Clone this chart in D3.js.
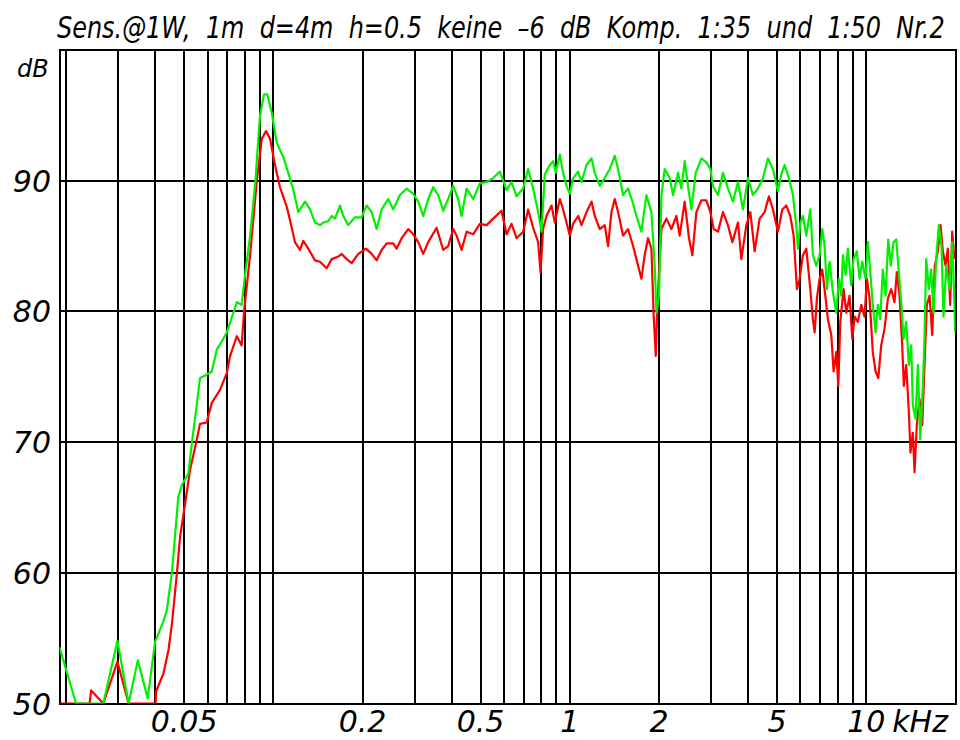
<!DOCTYPE html>
<html>
<head>
<meta charset="utf-8">
<script src="https://d3js.org/d3.v7.min.js"></script>
<style>
  body { margin: 0; background: #fff; }
  text { font-family: "DejaVu Sans", sans-serif; font-style: italic; fill: #000; }
</style>
</head>
<body>
<svg id="chart"></svg>
<script>
// frequency in kHz, level in dB
var greenFreq = [0.0190,0.0216,0.0267,0.0298,0.0325,0.0349,0.0377,0.0399,0.0426,0.0437,0.0455,0.0466,0.0478,0.0491,0.0517,0.0531,0.0545,0.0566,0.0589,0.0620,0.0645,0.0670,0.0697,0.0753,0.0782,0.0803,0.0835,0.0868,0.0902,0.0930,0.0954,0.0988,0.1027,0.1081,0.1123,0.1168,0.1214,0.1279,0.1330,0.1382,0.1437,0.1474,0.1532,0.1573,0.1614,0.1678,0.1722,0.1789,0.1885,0.1986,0.2064,0.2146,0.2231,0.2319,0.2441,0.2538,0.2673,0.2816,0.2964,0.3081,0.3203,0.3330,0.3462,0.3599,0.3741,0.3889,0.4043,0.4203,0.4315,0.4486,0.4722,0.4974,0.5240,0.5515,0.5809,0.6120,0.6361,0.6613,0.6960,0.7236,0.7522,0.7820,0.8028,0.8236,0.8563,0.8785,0.8971,0.9255,0.9494,0.9747,1.000,1.026,1.067,1.095,1.139,1.184,1.214,1.262,1.312,1.364,1.418,1.455,1.512,1.572,1.627,1.678,1.744,1.813,1.885,1.934,1.960,2.000,2.038,2.090,2.173,2.230,2.317,2.379,2.441,2.504,2.572,2.659,2.779,2.888,2.980,3.041,3.161,3.286,3.416,3.551,3.692,3.838,3.990,4.148,4.312,4.483,4.660,4.845,5.036,5.170,5.304,5.485,5.658,5.808,5.881,5.992,6.114,6.277,6.475,6.607,6.783,6.960,7.108,7.235,7.366,7.522,7.717,7.924,8.084,8.236,8.339,8.515,8.670,8.900,9.061,9.296,9.493,9.694,9.945,10.12,10.32,10.52,10.75,10.94,11.15,11.37,11.62,11.86,12.10,12.36,12.62,12.88,13.12,13.36,13.64,13.92,14.18,14.36,14.66,14.93,15.21,15.52,15.72,15.93,16.26,16.56,16.86,17.22,17.57,17.94,18.22,18.61,19.09,19.49,19.80,19.95];
var greenDb = [54.3,50,50,54.8,50,53.3,50.4,54.7,56.3,57.1,60.0,62.8,65.8,66.7,67.6,69.9,71.9,74.9,75.1,75.4,77.1,77.7,78.4,80.7,80.5,82.8,85.8,89.7,95.0,96.6,96.6,95.2,92.9,91.8,90.6,89.3,87.6,88.4,87.8,86.8,86.6,86.8,86.9,87.3,87.1,88.1,87.3,86.6,87.2,87.2,88.1,87.6,86.3,87.8,88.6,87.8,88.9,89.4,89.0,88.4,87.3,88.6,89.5,88.9,87.7,88.6,89.6,88.6,87.3,89.4,88.6,89.8,89.9,90.2,90.7,89.3,89.9,88.8,89.4,90.9,89.4,87.6,86.1,90.5,91.2,91.5,90.6,92.0,90.6,89.6,89.0,90.2,90.7,89.9,91.2,91.7,90.6,89.6,90.2,90.9,91.9,90.9,88.9,89.4,88.4,87.3,86.1,88.9,87.6,83.5,79.9,81.2,88.9,90.9,90.2,88.9,90.6,89.4,91.5,89.6,87.8,90.6,91.7,91.4,90.9,89.6,88.9,90.6,89.4,88.4,89.9,87.8,90.2,88.9,89.4,90.2,91.7,90.9,89.2,90.5,91.2,90.2,88.9,86.6,84.8,86.8,87.3,85.8,87.8,84.3,83.5,84.3,86.3,85.0,81.7,83.8,81.5,79.9,82.5,81.2,84.3,82.8,84.8,82.0,84.0,84.6,82.5,83.8,82.5,85.3,83.0,80.5,78.4,80.5,79.4,83.2,81.2,85.5,83.5,85.3,85.5,83.0,80.7,77.9,79.2,75.9,77.4,72.8,71.8,75.9,70.2,74.3,77.9,84.0,81.7,83.2,79.9,84.0,86.6,85.0,79.6,83.5,81.7,85.3,81.2,78.4];

var redFreq = [0.0190,0.0240,0.0243,0.0267,0.0298,0.0325,0.0401,0.0402,0.0426,0.0443,0.0455,0.0473,0.0485,0.0504,0.0524,0.0545,0.0566,0.0596,0.0620,0.0661,0.0697,0.0715,0.0753,0.0782,0.0796,0.0835,0.0879,0.0914,0.0945,0.0975,0.1013,0.1053,0.1110,0.1138,0.1183,0.1230,0.1262,0.1312,0.1382,0.1437,0.1514,0.1573,0.1656,0.1700,0.1768,0.1838,0.1934,0.2053,0.2146,0.2231,0.2319,0.2411,0.2538,0.2605,0.2709,0.2851,0.2964,0.3081,0.3203,0.3330,0.3554,0.3741,0.3889,0.4043,0.4151,0.4315,0.4486,0.4722,0.4974,0.5240,0.5515,0.5886,0.6120,0.6361,0.6613,0.6960,0.7236,0.7522,0.7820,0.7966,0.8128,0.8346,0.8677,0.8902,0.9255,0.9494,0.9747,1.000,1.026,1.067,1.095,1.139,1.184,1.214,1.262,1.312,1.346,1.382,1.418,1.455,1.512,1.572,1.635,1.678,1.744,1.789,1.836,1.885,1.919,1.950,1.969,2.000,2.038,2.118,2.202,2.289,2.348,2.441,2.524,2.591,2.673,2.779,2.888,2.980,3.057,3.161,3.286,3.416,3.535,3.692,3.791,3.940,4.065,4.203,4.369,4.542,4.696,4.845,5.036,5.211,5.375,5.544,5.689,5.836,5.959,6.114,6.277,6.475,6.607,6.697,6.817,6.960,7.108,7.293,7.424,7.621,7.760,7.924,8.047,8.173,8.386,8.564,8.785,8.971,9.133,9.369,9.619,9.868,10.05,10.26,10.52,10.75,10.98,11.23,11.53,11.83,12.14,12.45,12.68,12.95,13.22,13.39,13.64,13.92,14.10,14.36,14.55,14.81,15.12,15.45,15.72,16.01,16.35,16.69,17.03,17.44,17.81,18.13,18.51,18.84,19.19,19.49,19.84];
var redDb = [50,50,51.0,50,53.2,50,50,50.9,52.3,54.1,56.1,60.0,62.8,65.3,67.9,69.6,71.4,71.5,73.0,74.0,75.3,76.6,78.1,77.4,79.9,84.3,89.9,93.2,93.8,93.2,91.2,89.5,88.0,87.0,85.3,84.7,85.4,84.8,83.9,83.8,83.3,84.0,84.2,84.4,84.0,83.7,84.4,84.8,84.4,83.9,84.7,85.2,85.2,84.8,85.6,86.3,85.9,85.3,84.4,85.3,86.4,84.7,85.0,86.3,85.8,84.7,86.1,85.9,86.7,86.6,87.1,87.7,85.9,86.7,85.6,86.1,87.8,86.4,85.3,83.0,86.3,87.3,88.1,86.8,88.6,87.8,86.8,85.8,86.7,87.3,86.6,87.6,88.4,87.3,86.3,86.6,85.0,87.6,88.6,87.6,85.8,86.3,85.0,84.0,82.5,84.3,85.6,84.8,79.6,76.6,79.6,83.0,86.3,87.1,86.3,87.3,85.8,88.4,85.6,84.3,87.6,88.5,88.5,87.6,86.3,86.1,87.6,86.6,85.3,86.8,84.0,86.6,87.6,84.6,87.1,87.6,88.8,87.8,86.1,87.8,88.1,87.3,85.8,81.7,82.5,84.3,84.8,81.7,79.4,78.4,81.0,82.5,83.2,81.0,79.4,78.2,75.4,76.9,74.3,79.2,81.7,79.9,81.2,77.9,79.6,79.2,80.5,79.6,82.5,81.0,76.9,75.4,74.9,77.4,78.7,81.0,81.7,80.7,83.0,81.2,77.4,74.3,75.9,72.3,69.2,70.7,67.7,71.3,73.3,71.3,75.9,80.5,81.2,78.2,83.5,84.6,86.6,84.6,83.5,84.8,80.5,86.1,84.0];

var yTicks = [50, 60, 70, 80, 90];
var xGrid = [0.02,0.03,0.04,0.05,0.06,0.07,0.08,0.09,0.1,0.2,0.3,0.4,0.5,0.6,0.7,0.8,0.9,1,2,3,4,5,6,7,8,9,10];
var xLabels = [0.05, 0.2, 0.5, 1, 2, 5, 10];
var title = "Sens.@1W,  1m  d=4m  h=0.5  keine  \u20136  dB  Komp.  1:35  und  1:50  Nr.2";

var width = 960, height = 740;
var plotLeft = 59.5, plotRight = 955.5, plotTop = 50, plotBottom = 703.5;

var svg = d3.select("#chart").attr("width", width).attr("height", height);

var x = d3.scaleLog().domain([0.019, 20]).range([plotLeft, plotRight]);
var y = d3.scaleLinear().domain([50, 100]).range([plotBottom, plotTop]);

svg.append("defs").append("clipPath").attr("id", "plot")
  .append("rect").attr("x", plotLeft).attr("y", plotTop - 2)
  .attr("width", plotRight - plotLeft).attr("height", plotBottom - plotTop + 2);

// grid
var grid = svg.append("g").attr("stroke", "#000").attr("stroke-width", 2).attr("shape-rendering", "crispEdges");
grid.selectAll(".v").data(xGrid).join("line")
  .attr("x1", d => x(d)).attr("x2", d => x(d)).attr("y1", plotTop).attr("y2", plotBottom);
grid.selectAll(".h").data(yTicks).join("line")
  .attr("x1", plotLeft).attr("x2", plotRight).attr("y1", d => y(d)).attr("y2", d => y(d));
grid.append("rect").attr("x", plotLeft).attr("y", plotTop)
  .attr("width", plotRight - plotLeft).attr("height", plotBottom - plotTop)
  .attr("fill", "none");

// curves
var line = d3.line().x(d => x(d[0])).y(d => y(d[1]));
var curves = svg.append("g").attr("clip-path", "url(#plot)").attr("fill", "none").attr("stroke-width", 2.2)
  .attr("stroke-linejoin", "round");
curves.append("path").datum(d3.zip(redFreq, redDb)).attr("stroke", "#ff0000").attr("d", line);
curves.append("path").datum(d3.zip(greenFreq, greenDb)).attr("stroke", "#00f000").attr("d", line);

// y labels
svg.selectAll(".yl").data(yTicks).join("text")
  .attr("x", 51).attr("y", d => y(d) + 11).attr("text-anchor", "end")
  .style("font-size", "30px").text(d => d);
svg.append("text").attr("x", 17).attr("y", 77).style("font-size", "24px").text("dB");

// x labels
svg.selectAll(".xl").data(xLabels).join("text")
  .attr("x", d => x(d)).attr("y", 732).attr("text-anchor", "middle")
  .style("font-size", "30px").text(d => d);
svg.append("text").attr("x", x(10) + 26).attr("y", 732).style("font-size", "30px").text("kHz");

// title, squeezed horizontally to the width of the plot
var t = svg.append("text").attr("x", 0).attr("y", 0)
  .style("font-size", "31px").style("white-space", "pre")
  .text(title);
var tw = t.node().getComputedTextLength();
t.attr("transform", "translate(57,38) scale(" + (888 / tw) + ",1)");
</script>
</body>
</html>
